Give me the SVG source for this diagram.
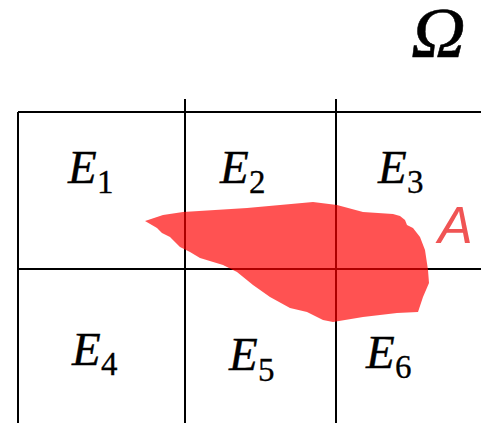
<svg xmlns="http://www.w3.org/2000/svg" width="481" height="423" viewBox="0 0 481 423">
<style>
.g{stroke:#000;stroke-width:2;fill:none}
.e{font-family:"Liberation Serif","DejaVu Serif",serif;font-style:italic;font-size:47px;fill:#000;stroke:#000;stroke-width:0.4}
.s{font-family:"Liberation Serif","DejaVu Serif",serif;font-size:33px;fill:#000;stroke:#000;stroke-width:0.3}
</style>
<rect width="481" height="423" fill="#fff"/>
<g id="grid">
<path class="g" d="M18,112 H481 M18,269 H481 M18,112 V423 M185,99 V423 M336,99 V423"/>
</g>
<g id="omega"><text transform="translate(411,57) scale(1.05,1)" x="0" y="0" style="font-family:'Liberation Serif',serif;font-style:italic;font-size:72px;stroke:#000;stroke-width:0.5">Ω</text></g>
<g id="E1"><text class="e" x="68" y="183">E</text><text class="s" x="97" y="193">1</text></g>
<g id="E2"><text class="e" x="220" y="183">E</text><text class="s" x="249" y="193">2</text></g>
<g id="E3"><text class="e" x="378" y="183">E</text><text class="s" x="407" y="193">3</text></g>
<g id="E4"><text class="e" x="72" y="365">E</text><text class="s" x="101" y="375">4</text></g>
<g id="E5"><text class="e" x="229" y="370">E</text><text class="s" x="258" y="381">5</text></g>
<g id="E6"><text class="e" x="366" y="368">E</text><text class="s" x="395" y="378">6</text></g>
<g id="A">
<path d="M145,221 L163,215 L183,212 L247,208 L313,202 L337,205 L363,212 L393,214 L400,216 L405,220 L407,225 L413,228 L420,237 L425,250 L428,270 L429,283 L423,297 L418,312 L397,313 L363,317 L333,322 L323,320 L307,312 L290,308 L270,297 L253,285 L237,272 L223,265 L200,258 L190,252 L180,247 L170,237 L162,233 L157,228 Z" fill="#ff0000" fill-opacity="0.68"/>
<text x="438" y="243" style="font-family:'Liberation Sans',Arial,sans-serif;font-style:italic;font-size:52px;fill:#f05454">A</text>
</g>
</svg>
